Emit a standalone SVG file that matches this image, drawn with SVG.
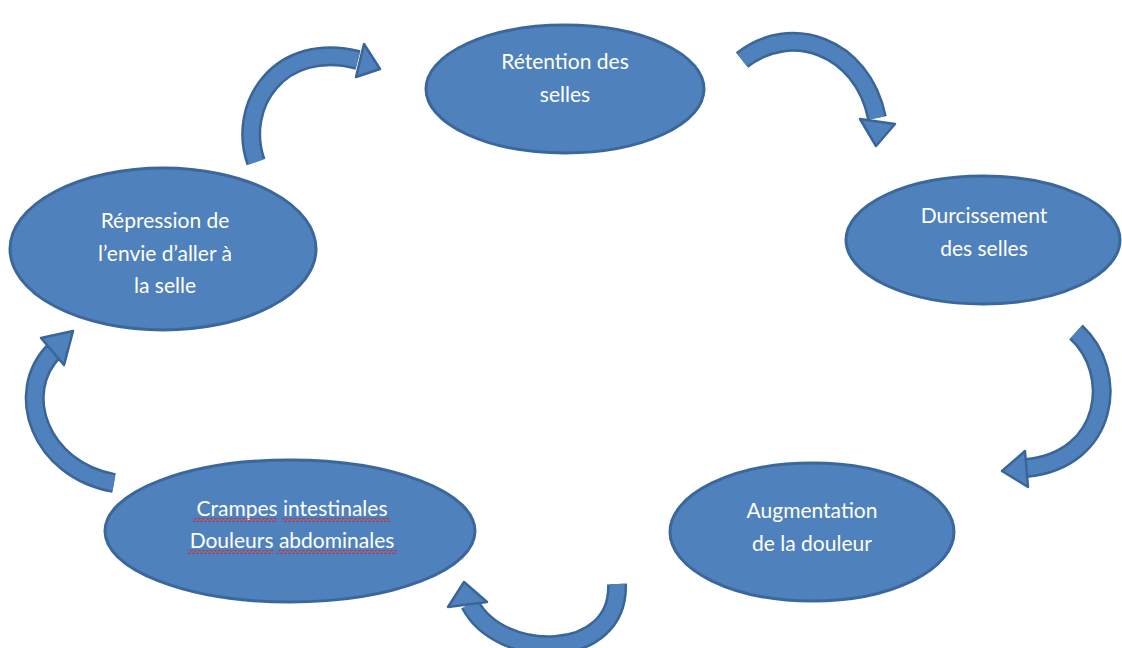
<svg xmlns="http://www.w3.org/2000/svg" width="1122" height="648" viewBox="0 0 1122 648">
<defs>
<style>
.node{fill:#4F81BD;stroke:#3B679B;stroke-width:3}
.lbl{fill:#ffffff;font-family:Lato,"Liberation Sans",sans-serif;font-size:21px;text-anchor:middle}
.out{fill:none;stroke:#3A6597;stroke-width:20}
.in{fill:none;stroke:#4F81BD;stroke-width:15}
.head{fill:#4F81BD;stroke:#3A6597;stroke-width:2.5;stroke-linejoin:round}
.sq{fill:url(#squig)}
</style>
<pattern id="squig" width="4" height="4" patternUnits="userSpaceOnUse">
<path d="M0 3 L1 1 L2 1 L3 3 L4 3" fill="none" stroke="#E02020" stroke-width="1"/>
</pattern>
</defs>
<rect width="1122" height="648" fill="#ffffff"/>
<g id="connectors">
<path class="out" d="M256 162 C236 105 280 40 358 60"/>
<path class="in" d="M256 162 C236 105 280 40 358 60"/>
<polygon class="head" points="364,44 356,77 380,69"/>
<path class="out" d="M742 60 C790 22 862 45 877 118"/>
<path class="in" d="M742 60 C790 22 862 45 877 118"/>
<polygon class="head" points="860,119 895,124 876,146"/>
<path class="out" d="M1076 332 C1120 372 1110 460 1026 468"/>
<path class="in" d="M1076 332 C1120 372 1110 460 1026 468"/>
<polygon class="head" points="1025,451 1028,487 1002,471"/>
<path class="out" d="M617 584 C620 662 500 662 470 604"/>
<path class="in" d="M617 584 C620 662 500 662 470 604"/>
<polygon class="head" points="448,607 487,602 464,582"/>
<path class="out" d="M114 483 C40 470 12 392 55 350"/>
<path class="in" d="M114 483 C40 470 12 392 55 350"/>
<polygon class="head" points="41,338 64,365 73,331"/>
</g>
<g id="n1">
<ellipse class="node" cx="565" cy="89" rx="139" ry="64"/>
<text class="lbl" x="565" y="69">Rétention des</text>
<text class="lbl" x="565" y="102">selles</text>
</g>
<g id="n2">
<ellipse class="node" cx="983" cy="240" rx="137" ry="64"/>
<text class="lbl" x="984" y="223">Durcissement</text>
<text class="lbl" x="984" y="256">des selles</text>
</g>
<g id="n3">
<ellipse class="node" cx="812" cy="532" rx="142" ry="69"/>
<text class="lbl" x="812" y="518">Augmentation</text>
<text class="lbl" x="812" y="551">de la douleur</text>
</g>
<g id="n4">
<ellipse class="node" cx="290" cy="531" rx="185" ry="71"/>
<text class="lbl" x="292" y="516">Crampes intestinales</text>
<text class="lbl" x="292" y="548">Douleurs abdominales</text>
<rect class="sq" x="193" y="518" width="84" height="4"/>
<rect class="sq" x="282" y="518" width="108" height="4"/>
<rect class="sq" x="188" y="550" width="85" height="4"/>
<rect class="sq" x="277" y="550" width="120" height="4"/>
</g>
<g id="n5">
<ellipse class="node" cx="163" cy="249" rx="153" ry="81"/>
<text class="lbl" x="165" y="228">Répression de</text>
<text class="lbl" x="165" y="261">l’envie d’aller à</text>
<text class="lbl" x="165" y="293">la selle</text>
</g>
</svg>
